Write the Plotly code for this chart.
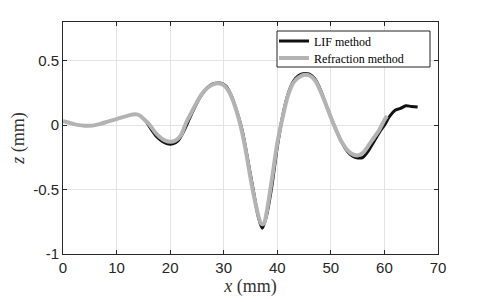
import plotly.graph_objects as go

# LIF method (black)
lif_x = [15.5, 16.5, 17.5, 18.5, 19.5, 20.5, 21.5, 22.5, 23.5, 24.5, 25.5, 26.5, 27.5, 28.5, 29.5,
         30.5, 31.5, 32.5, 33.5, 34.5, 35.5, 36.5, 37.2, 38, 39, 40, 41, 42, 43, 44, 45, 46, 47,
         48, 49, 50, 51, 52, 53, 54, 55, 56, 57, 58, 59, 60, 61, 62, 63, 64, 65, 66.2]
lif_z = [0.03, -0.035, -0.09, -0.125, -0.145, -0.145, -0.12, -0.05, 0.04, 0.13, 0.21, 0.27, 0.31,
         0.325, 0.325, 0.3, 0.22, 0.1, -0.05, -0.27, -0.5, -0.72, -0.8, -0.7, -0.47, -0.17, 0.07,
         0.24, 0.34, 0.385, 0.4, 0.395, 0.36, 0.28, 0.17, 0.06, -0.04, -0.13, -0.2, -0.24, -0.255,
         -0.25, -0.2, -0.13, -0.06, 0.0, 0.07, 0.115, 0.13, 0.15, 0.145, 0.14]

# Refraction method (grey)
ref_x = [0, 1, 2, 3, 4, 5, 6, 7, 8, 9, 10, 11, 12, 13, 13.8, 14.5, 15, 16, 17, 18, 19, 20, 21, 22,
         23, 24, 25, 26, 27, 28, 29, 30, 31, 32, 33, 34, 35, 36, 37, 37.5, 38, 39, 40, 41, 42, 43,
         44, 45, 46, 47, 48, 49, 50, 51, 52, 53, 54, 55, 56, 57, 58, 59, 60, 60.5]
ref_z = [0.03, 0.02, 0.008, 0.0, -0.004, -0.005, 0.0, 0.01, 0.022, 0.035, 0.047, 0.06, 0.072, 0.082,
         0.083, 0.07, 0.05, 0.01, -0.045, -0.09, -0.118, -0.13, -0.12, -0.08, 0.02, 0.1, 0.18, 0.245,
         0.29, 0.315, 0.325, 0.31, 0.26, 0.16, 0.02, -0.17, -0.41, -0.62, -0.765, -0.765, -0.68,
         -0.42, -0.14, 0.06, 0.23, 0.33, 0.37, 0.39, 0.385, 0.35, 0.27, 0.17, 0.06, -0.04, -0.13,
         -0.19, -0.225, -0.235, -0.215, -0.16, -0.1, -0.04, 0.04, 0.07]

x_ticks = [0, 10, 20, 30, 40, 50, 60, 70]
y_ticks = [-1, -0.5, 0, 0.5]
y_ticktext = ["-1", "-0.5", "0", "0.5"]

axis_col = "#262626"
grid_col = "#e3e3e3"

# page body has an 8px margin: figure starts at (8, 8) in the window
OFF = 8
W, H = 485 - OFF, 302 - OFF
L, R, T, B = 63 - OFF, 47, 22 - OFF, 48
PW, PH = W - L - R, H - T - B


def px(xw):  # window x -> paper fraction
    return (xw - OFF - L) / PW


def py(yw):  # window y -> paper fraction
    return (H - B - (yw - OFF)) / PH


fig = go.Figure()
fig.add_trace(go.Scatter(x=lif_x, y=lif_z, mode="lines", name="LIF method", legend="legend",
                         line=dict(color="#111111", width=3, shape="spline", smoothing=0.8)))
fig.add_trace(go.Scatter(x=ref_x, y=ref_z, mode="lines", name="Refraction method",
                         legend="legend2",
                         line=dict(color="#b3b3b3", width=4, shape="spline", smoothing=0.8)))

# legend box
fig.add_shape(type="rect", xref="paper", yref="paper",
              x0=px(277), x1=px(430), y0=py(67), y1=py(31),
              line=dict(color="#222222", width=1), fillcolor="white", layer="above")

leg_common = dict(xanchor="left", yanchor="middle", bgcolor="rgba(0,0,0,0)", borderwidth=0,
                  font=dict(family="Liberation Serif", size=12, color="black"), itemwidth=30)

fig.update_layout(
    width=W, height=H,
    margin=dict(l=L, r=R, t=T, b=B),
    paper_bgcolor="white", plot_bgcolor="white",
    showlegend=True,
    legend=dict(x=px(274), y=py(41), **leg_common),
    legend2=dict(x=px(274), y=py(58), **leg_common),
    xaxis=dict(range=[0, 70], tickvals=x_ticks, ticks="inside", ticklen=4, tickcolor=axis_col,
               showline=True, linecolor=axis_col, linewidth=1, mirror="ticks",
               showgrid=True, gridcolor=grid_col, gridwidth=1, zeroline=False, automargin=False,
               tickfont=dict(family="Liberation Sans", size=15, color=axis_col),
               title=dict(text="<i>x</i> (mm)", standoff=4,
                          font=dict(family="Liberation Serif", size=18, color="#333333"))),
    yaxis=dict(range=[-1, 0.8], tickvals=y_ticks, ticktext=y_ticktext, ticks="inside", ticklen=4,
               tickcolor=axis_col, showline=True, linecolor=axis_col, linewidth=1, mirror="ticks",
               showgrid=True, gridcolor=grid_col, gridwidth=1, zeroline=False, automargin=False,
               tickfont=dict(family="Liberation Sans", size=15, color=axis_col),
               title=dict(text="<i>z</i> (mm)", standoff=11,
                          font=dict(family="Liberation Serif", size=18, color="#333333"))),
)

fig.write_html("out.html")
